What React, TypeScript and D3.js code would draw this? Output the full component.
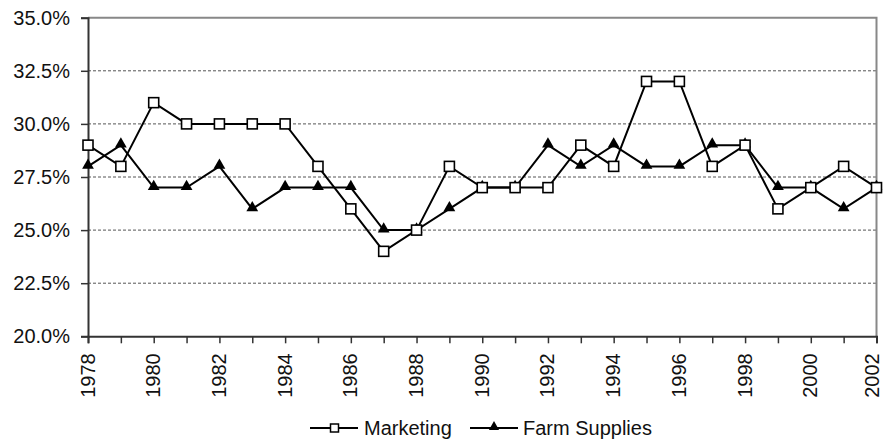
import { useEffect, useRef } from "react";
import * as d3 from "d3";

const years = d3.range(1978, 2003);
const marketing = [29, 28, 31, 30, 30, 30, 30, 28, 26, 24, 25, 28, 27, 27, 27, 29, 28, 32, 32, 28, 29, 26, 27, 28, 27];
const farmSupplies = [28, 29, 27, 27, 28, 26, 27, 27, 27, 25, 25, 26, 27, 27, 29, 28, 29, 28, 28, 29, 29, 27, 27, 26, 27];
const yTicks = [20, 22.5, 25, 27.5, 30, 32.5, 35];

export default function App() {
  const ref = useRef<SVGSVGElement>(null);

  useEffect(() => {
    const svg = d3.select(ref.current);
    const width = 884;
    const height = 443;
    const left = 88;
    const right = 876.5;
    const top = 17.7;
    const bottom = 336.3;
    const font = "'Liberation Sans', Arial, sans-serif";

    svg.selectAll("*").remove();
    svg.attr("width", width).attr("height", height);

    const x = d3.scaleLinear().domain([1978, 2002]).range([left, right]);
    const y = d3.scaleLinear().domain([20, 35]).range([bottom, top]);

    // dashed gridlines
    svg
      .append("g")
      .selectAll("line")
      .data(yTicks.filter((t) => t > 20 && t < 35))
      .join("line")
      .attr("x1", left)
      .attr("x2", right)
      .attr("y1", (d) => y(d))
      .attr("y2", (d) => y(d))
      .attr("stroke", "#555")
      .attr("stroke-width", 1)
      .attr("stroke-dasharray", "3,2");

    // top and right frame
    svg
      .append("path")
      .attr("d", `M${left},${y(35)}H${right}V${bottom}`)
      .attr("fill", "none")
      .attr("stroke", "#888")
      .attr("stroke-width", 2);

    // y axis
    const yAxis = svg
      .append("g")
      .attr("transform", `translate(${left},0)`)
      .call(
        d3
          .axisLeft(y)
          .tickValues(yTicks)
          .tickSize(7)
          .tickPadding(11)
          .tickFormat((d) => `${(+d).toFixed(1)}%`)
      );
    yAxis.select(".domain").attr("stroke", "#333").attr("stroke-width", 2);
    yAxis.selectAll(".tick line").attr("stroke", "#333").attr("stroke-width", 1.5);
    yAxis
      .selectAll(".tick text")
      .attr("fill", "#111")
      .style("font-family", font)
      .style("font-size", "20px");

    // x axis
    const xAxis = svg
      .append("g")
      .attr("transform", `translate(0,${bottom})`)
      .call(
        d3
          .axisBottom(x)
          .tickValues(years)
          .tickSize(7)
          .tickFormat((d) => ((+d - 1978) % 2 === 0 ? String(d) : ""))
      );
    xAxis.select(".domain").attr("stroke", "#333").attr("stroke-width", 2);
    xAxis.selectAll(".tick line").attr("stroke", "#333").attr("stroke-width", 1.5);
    xAxis
      .selectAll<SVGTextElement, number>(".tick text")
      .attr("fill", "#111")
      .style("font-family", font)
      .style("font-size", "20px")
      .attr("transform", "rotate(-90)")
      .attr("text-anchor", "end")
      .attr("x", -17)
      .attr("y", 0)
      // last label sits on the right edge, pull it in a little
      .attr("dy", (d) => (d === 2002 ? "0.12em" : "0.3em"));

    const line = d3
      .line<number>()
      .x((_, i) => x(years[i]))
      .y((d) => y(d));

    const tri = d3.symbol().type(d3.symbolTriangle).size(60);

    // Farm Supplies
    svg
      .append("path")
      .attr("d", line(farmSupplies))
      .attr("fill", "none")
      .attr("stroke", "#000")
      .attr("stroke-width", 2);
    svg
      .append("g")
      .selectAll("path")
      .data(farmSupplies)
      .join("path")
      .attr("d", tri)
      .attr("transform", (d, i) => `translate(${x(years[i])},${y(d) - 1})`)
      .attr("fill", "#000");

    // Marketing
    svg
      .append("path")
      .attr("d", line(marketing))
      .attr("fill", "none")
      .attr("stroke", "#000")
      .attr("stroke-width", 2);
    svg
      .append("g")
      .selectAll("rect")
      .data(marketing)
      .join("rect")
      .attr("x", (_, i) => x(years[i]) - 5)
      .attr("y", (d) => y(d) - 5)
      .attr("width", 10)
      .attr("height", 10)
      .attr("fill", "#fff")
      .attr("stroke", "#000")
      .attr("stroke-width", 1.6);

    // legend
    const legend = svg.append("g").attr("transform", "translate(0,428)");
    legend.append("line").attr("x1", 310).attr("x2", 358).attr("stroke", "#000").attr("stroke-width", 2);
    legend
      .append("rect")
      .attr("x", 330.5)
      .attr("y", -4)
      .attr("width", 8)
      .attr("height", 8)
      .attr("fill", "#fff")
      .attr("stroke", "#000")
      .attr("stroke-width", 1.5);
    legend
      .append("text")
      .attr("x", 364)
      .attr("dy", "0.35em")
      .style("font-family", font)
      .style("font-size", "20px")
      .attr("fill", "#111")
      .text("Marketing");

    legend.append("line").attr("x1", 470).attr("x2", 518).attr("stroke", "#000").attr("stroke-width", 2);
    legend
      .append("path")
      .attr("d", d3.symbol().type(d3.symbolTriangle).size(45)())
      .attr("transform", "translate(494,-1)")
      .attr("fill", "#000");
    legend
      .append("text")
      .attr("x", 523)
      .attr("dy", "0.35em")
      .style("font-family", font)
      .style("font-size", "20px")
      .attr("fill", "#111")
      .text("Farm Supplies");
  }, []);

  return (
    <svg
      ref={ref}
      style={{ position: "absolute", left: 0, top: 0, display: "block" }}
      role="img"
      aria-label="Marketing and Farm Supplies share, 1978-2002"
    />
  );
}
